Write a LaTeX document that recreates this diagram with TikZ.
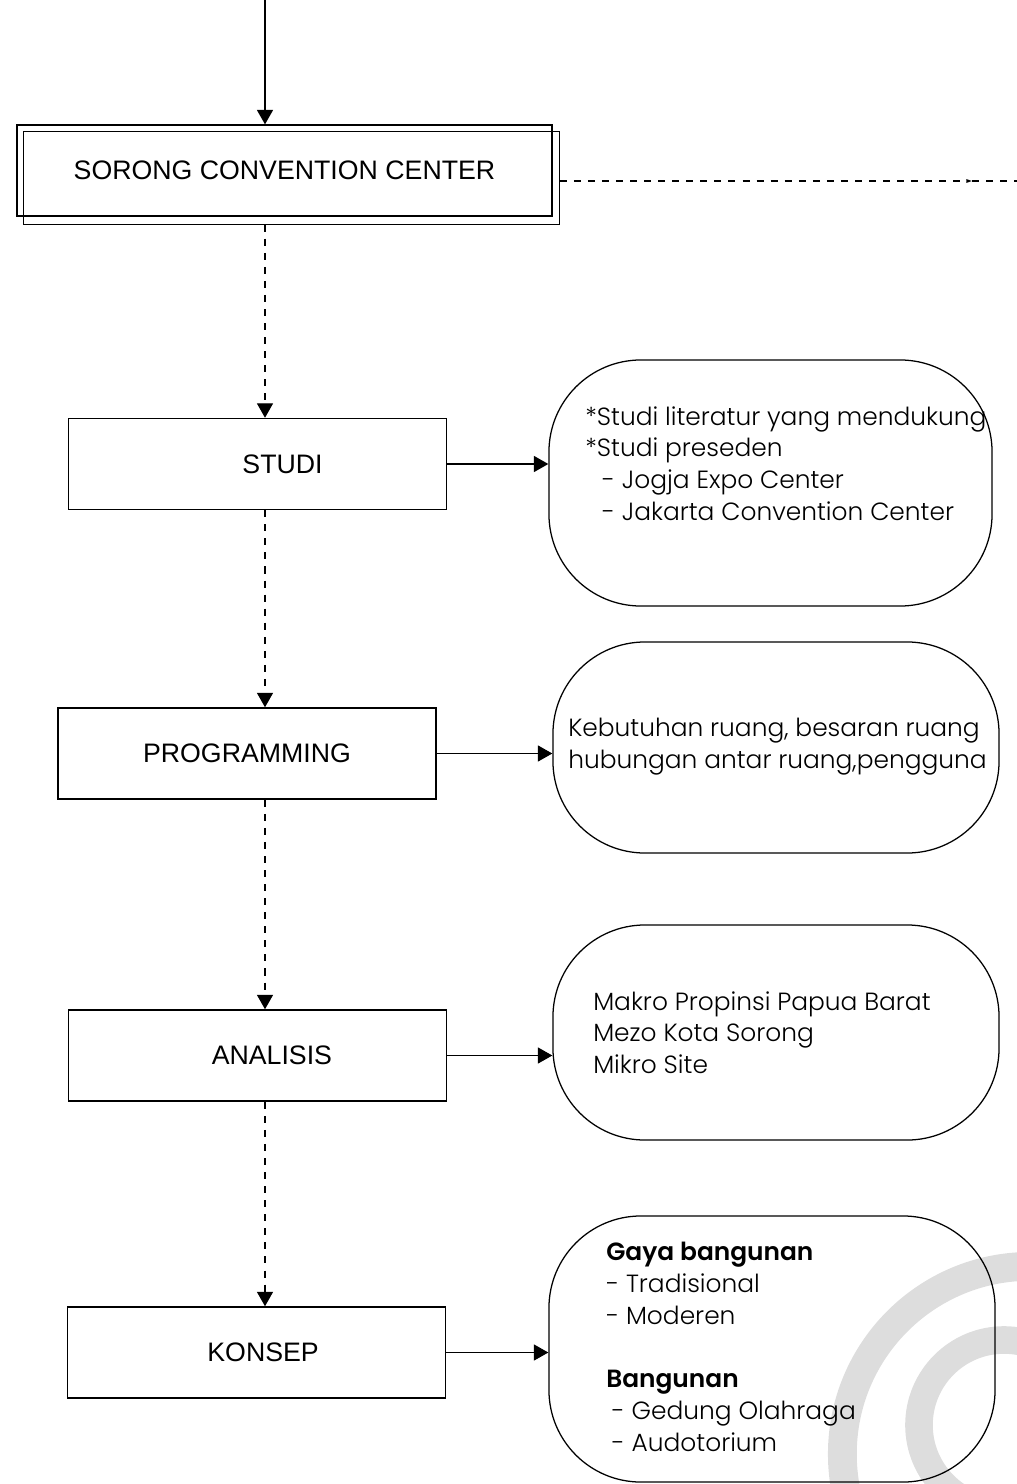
\documentclass[tikz,border=0pt]{standalone}
\usepackage{fontspec}
\setmainfont{Liberation Sans}
\newfontfamily\gothicfont{Poppins Light}[BoldFont={Poppins SemiBold}]
\usetikzlibrary{arrows.meta}

\tikzset{
  tahap/.style={draw, line width=0.9pt, minimum width=9.45cm, minimum height=2.28cm,
    font=\fontsize{19}{22}\selectfont},
  ket/.style={draw, line width=0.9pt, rounded corners=2.3cm},
  isi/.style={anchor=north west, inner sep=0pt, align=left,
    font=\gothicfont\fontsize{17.7}{22.6}\selectfont},
  alur/.style={-{Triangle[length=0.36cm,width=0.4cm]}, line width=0.9pt},
  putus/.style={line width=0.9pt, dash pattern=on 5pt off 5pt},
  cincin/.style={fill={rgb,255:red,221;green,221;blue,221}, even odd rule},
}

\begin{document}
\begin{tikzpicture}[x=0.025cm, y=-0.025cm]
      \useasboundingbox (0,0) rectangle (1017,1484);
      % lingkaran abu-abu di pojok
      \begin{scope}
        \clip (0,0) rectangle (1017,1484);
        \coordinate (pusat1) at (1030,1454);
        \coordinate (pusat2) at (1004,1425);
        \fill[cincin] (pusat1) circle[radius=5.05cm] (pusat1) circle[radius=4.33cm];
        \fill[cincin] (pusat2) circle[radius=2.47cm] (pusat2) circle[radius=1.78cm];
      \end{scope}

      \coordinate (awal) at (265,0);
      \coordinate (sumbu) at (265,0);
      \coordinate (tengah) at (972,181);
      \coordinate (kanan) at (1017,181);

      \node[draw, line width=0.9pt, minimum width=13.375cm, minimum height=2.275cm,
        font=\fontsize{19}{22}\selectfont] (judul) at (284.5,170.5) {SORONG CONVENTION CENTER\hspace{0.9cm}};
      \draw[line width=0.9pt] ([shift={(7,7)}]judul.north west) rectangle ([shift={(7,8)}]judul.south east);

      \node[tahap] (studi) at (257.5,464) {\hspace{1.25cm}STUDI};
      \node[tahap] (prog) at (247,753.5) {PROGRAMMING};
      \node[tahap] (analisis) at (257.5,1055.5) {\hspace{0.72cm}ANALISIS};
      \node[tahap] (konsep) at (256.5,1352.5) {\hspace{0.33cm}KONSEP};

      \node[ket, minimum width=11.075cm, minimum height=6.15cm] (ket1) at (770.5,483) {};
      \node[ket, minimum width=11.15cm, minimum height=5.275cm] (ket2) at (776,747.5) {};
      \node[ket, minimum width=11.15cm, minimum height=5.375cm] (ket3) at (776,1032.5) {};
      \node[ket, minimum width=11.15cm, minimum height=6.65cm] (ket4) at (772,1349) {};

      \node[isi] (isi1) at (585,406) {*Studi literatur yang mendukung\\
        *Studi preseden\\
        \hspace*{12pt}- Jogja Expo Center\\
        \hspace*{12pt}- Jakarta Convention Center};
      \node[isi] (isi2) at (568,718) {Kebutuhan ruang, besaran ruang\\
        hubungan antar ruang,pengguna};
      \node[isi] (isi3) at (593,991) {Makro Propinsi Papua Barat\\
        Mezo Kota Sorong\\
        Mikro Site};
      \node[isi] (isi4) at (606,1242) {\bfseries Gaya bangunan\\
        - Tradisional\\
        - Moderen\\[22.6pt]
        \bfseries Bangunan\\
        \hspace*{4pt}- Gedung Olahraga\\
        \hspace*{4pt}- Audotorium};

      \begin{scope}[alur]
        \draw (awal) to (judul.north -| awal);
        \draw (studi.east) to (studi.east -| ket1.west);
        \draw (prog.east) to (prog.east -| ket2.west);
        \draw (analisis.east) to (analisis.east -| ket3.west);
        \draw (konsep.east) to (konsep.east -| ket4.west);
      \end{scope}
      \begin{scope}[alur, putus]
        \draw ([yshift=-0.2cm]judul.south -| sumbu) to (studi.north -| sumbu);
        \draw (studi.south -| sumbu) to (prog.north -| sumbu);
        \draw (prog.south -| sumbu) to (analisis.north -| sumbu);
        \draw (analisis.south -| sumbu) to (konsep.north -| sumbu);
      \end{scope}
      \draw[putus, -{Triangle[length=4pt,width=2.5pt]}] ([xshift=0.175cm]judul.east |- kanan) to (tengah);
      \draw[putus] (tengah) to (kanan);
    \end{tikzpicture}
\end{document}
